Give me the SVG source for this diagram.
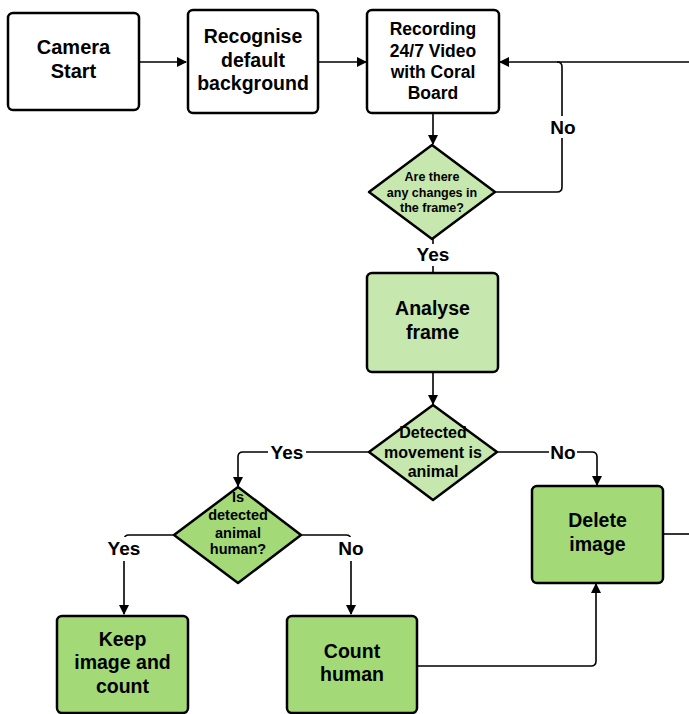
<svg xmlns="http://www.w3.org/2000/svg" width="689" height="714" viewBox="0 0 689 714">
  <style>
    .box { stroke: #000; stroke-width: 2.5; }
    .white { fill: #fff; }
    .light { fill: #c6e7ad; }
    .dark { fill: #a3d977; }
    .t { font-family: "Liberation Sans", Arial, sans-serif; font-weight: bold; fill: #000; text-anchor: middle; }
    .conn { fill: none; stroke: #000; stroke-width: 1.6; }
    .lbl { font-family: "Liberation Sans", Arial, sans-serif; font-weight: bold; font-size: 19px; fill: #000; text-anchor: middle; }
    .lblbg { fill: #fff; }
  </style>
  <defs>
    <marker id="arrow" markerWidth="10" markerHeight="10" refX="9" refY="5" orient="auto" markerUnits="userSpaceOnUse">
      <path d="M0,0 L10,5 L0,10 z" fill="#000"/>
    </marker>
  </defs>

  <rect width="689" height="714" fill="#fff"/>

  <!-- connectors -->
  <g id="connectors">
    <path class="conn" d="M139,62 H186" marker-end="url(#arrow)"/>
    <path class="conn" d="M318,62 H366" marker-end="url(#arrow)"/>
    <path class="conn" d="M689,62 H500" marker-end="url(#arrow)"/>
    <path class="conn" d="M495,192 H557 Q562,192 562,187 V67 Q562,62 557,62"/>
    <path class="conn" d="M433,114 V144" marker-end="url(#arrow)"/>
    <path class="conn" d="M433,239 V273"/>
    <path class="conn" d="M433,372 V404" marker-end="url(#arrow)"/>
    <path class="conn" d="M369,452 H243 Q238,452 238,457 V486" marker-end="url(#arrow)"/>
    <path class="conn" d="M497,452 H592 Q597,452 597,457 V485" marker-end="url(#arrow)"/>
    <path class="conn" d="M663,534 H689"/>
    <path class="conn" d="M174,535 H129 Q124,535 124,540 V614" marker-end="url(#arrow)"/>
    <path class="conn" d="M301,535 H346 Q351,535 351,540 V614" marker-end="url(#arrow)"/>
    <path class="conn" d="M417,666 H591 Q596,666 596,661 V584" marker-end="url(#arrow)"/>

    <!-- branch labels -->
    <rect class="lblbg" x="549" y="116" width="28" height="22"/>
    <text class="lbl" x="563" y="134">No</text>
    <rect class="lblbg" x="413" y="244" width="40" height="22"/>
    <text class="lbl" x="433" y="261">Yes</text>
    <rect class="lblbg" x="268" y="441" width="38" height="22"/>
    <text class="lbl" x="287" y="459">Yes</text>
    <rect class="lblbg" x="549" y="441" width="28" height="22"/>
    <text class="lbl" x="563" y="459">No</text>
    <rect class="lblbg" x="104" y="537" width="40" height="24"/>
    <text class="lbl" x="124" y="555">Yes</text>
    <rect class="lblbg" x="337" y="537" width="28" height="24"/>
    <text class="lbl" x="351" y="555">No</text>
  </g>

  <!-- process boxes -->
  <g id="camera-start">
    <rect class="box white" x="8" y="13" width="131" height="97" rx="5"/>
    <text class="t" font-size="20" x="73.5" y="54">Camera</text>
    <text class="t" font-size="20" x="73.5" y="78">Start</text>
  </g>

  <g id="recognise-background">
    <rect class="box white" x="188" y="10" width="130" height="103" rx="5"/>
    <text class="t" font-size="19.5" x="253" y="43">Recognise</text>
    <text class="t" font-size="19.5" x="253" y="67">default</text>
    <text class="t" font-size="19.5" x="253" y="90">background</text>
  </g>

  <g id="recording">
    <rect class="box white" x="367" y="10" width="132" height="103" rx="5"/>
    <text class="t" font-size="17.5" x="433" y="35">Recording</text>
    <text class="t" font-size="17.5" x="433" y="57">24/7 Video</text>
    <text class="t" font-size="17.5" x="433" y="78">with Coral</text>
    <text class="t" font-size="17.5" x="433" y="99">Board</text>
  </g>

  <g id="changes-decision">
    <path class="box light" stroke-linejoin="round" d="M432,145 L495,192 L432,239 L369,192 Z"/>
    <text class="t" font-size="12.5" x="432" y="180.5">Are there</text>
    <text class="t" font-size="12.5" x="432" y="196.5">any changes in</text>
    <text class="t" font-size="12.5" x="432" y="211.5">the frame?</text>
  </g>

  <g id="analyse-frame">
    <rect class="box light" x="367" y="273" width="131" height="99" rx="5"/>
    <text class="t" font-size="19.5" x="432.5" y="315">Analyse</text>
    <text class="t" font-size="19.5" x="432.5" y="339">frame</text>
  </g>

  <g id="animal-decision">
    <path class="box light" stroke-linejoin="round" d="M433,405 L497,452 L433,500 L369,452 Z"/>
    <text class="t" font-size="16" x="433" y="438">Detected</text>
    <text class="t" font-size="16" x="433" y="458">movement is</text>
    <text class="t" font-size="16" x="433" y="477">animal</text>
  </g>

  <g id="delete-image">
    <rect class="box dark" x="532" y="486" width="131" height="97" rx="5"/>
    <text class="t" font-size="19.5" x="597.5" y="527">Delete</text>
    <text class="t" font-size="19.5" x="597.5" y="551">image</text>
  </g>

  <g id="human-decision">
    <path class="box dark" stroke-linejoin="round" d="M238,487 L301,535 L238,583 L174,535 Z"/>
    <text class="t" font-size="14.5" x="238" y="502">Is</text>
    <text class="t" font-size="14.5" x="238" y="520">detected</text>
    <text class="t" font-size="14.5" x="238" y="538">animal</text>
    <text class="t" font-size="14.5" x="238" y="554">human?</text>
  </g>

  <g id="keep-image">
    <rect class="box dark" x="57" y="616" width="131" height="97" rx="5"/>
    <text class="t" font-size="19.5" x="122.5" y="646">Keep</text>
    <text class="t" font-size="19.5" x="122.5" y="669">image and</text>
    <text class="t" font-size="19.5" x="122.5" y="693">count</text>
  </g>

  <g id="count-human">
    <rect class="box dark" x="287" y="616" width="130" height="97" rx="5"/>
    <text class="t" font-size="19.5" x="352" y="658">Count</text>
    <text class="t" font-size="19.5" x="352" y="681">human</text>
  </g>
</svg>
